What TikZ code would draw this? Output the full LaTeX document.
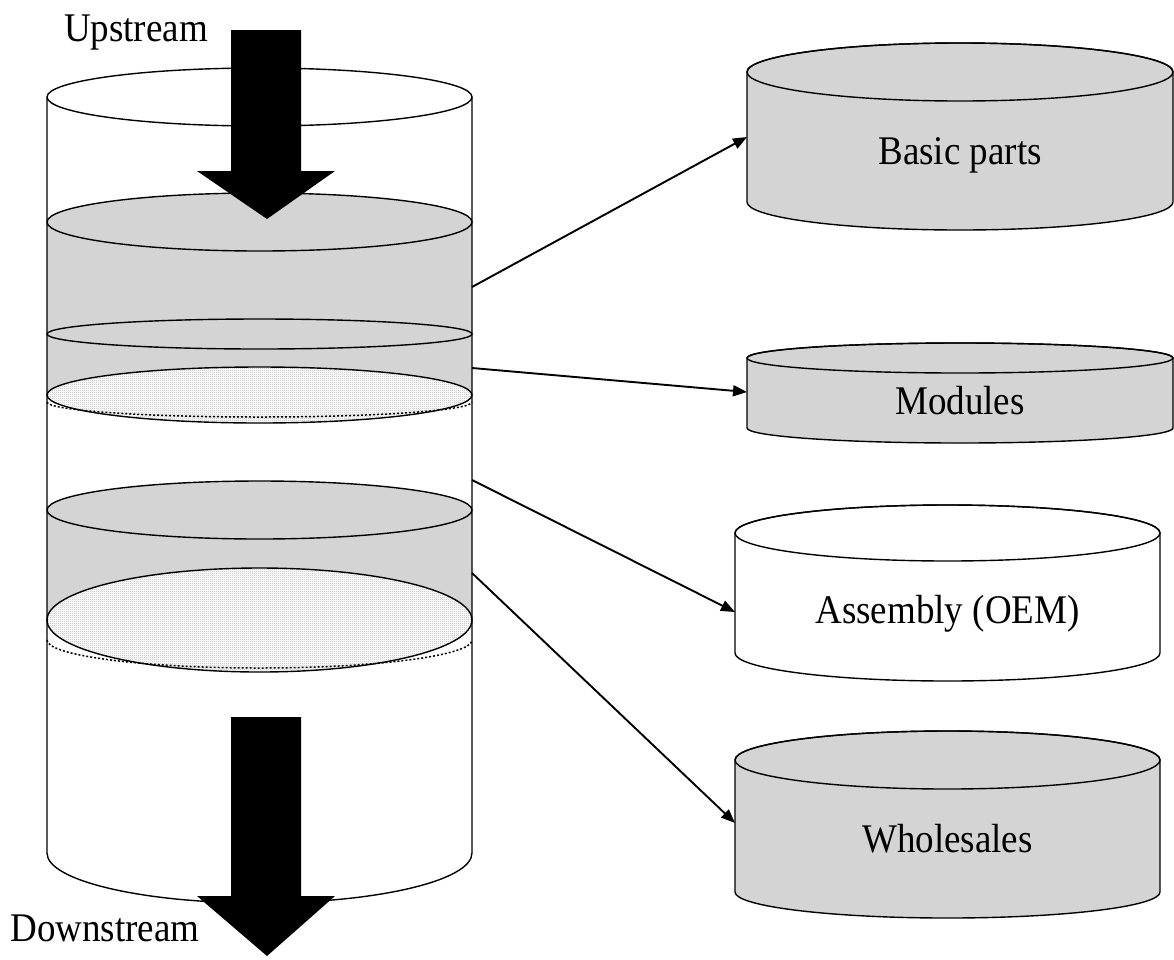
\documentclass[tikz,border=0pt]{standalone}
\usepackage{fontspec}
\setmainfont{Liberation Serif}
\usetikzlibrary{arrows.meta,patterns}
\definecolor{lg}{RGB}{212,212,212}
\definecolor{chk}{RGB}{188,188,188}
\pgfdeclarepatternformonly{finecheck}{\pgfpointorigin}{\pgfpoint{2pt}{2pt}}{\pgfpoint{2pt}{2pt}}{%
  \pgfpathrectangle{\pgfpointorigin}{\pgfpoint{1pt}{1pt}}%
  \pgfpathrectangle{\pgfpoint{1pt}{1pt}}{\pgfpoint{1pt}{1pt}}%
  \pgfusepath{fill}}
\newcommand\drawcan[7]{%
  \filldraw[canline, fill=#7] (#1-#4,-#2) -- (#1-#4,-#3)
    arc[start angle=180,end angle=360,x radius=#4,y radius=#6]
    -- (#1+#4,-#2)
    arc[start angle=0,end angle=180,x radius=#4,y radius=#5] -- cycle;
  \draw[canline] (#1,-#2) ellipse[x radius=#4, y radius=#5];
}
\newcommand\tallword[1]{\scalebox{1}[1.1]{#1}}
\begin{document}
\begin{tikzpicture}[x=1pt,y=1pt,
  canline/.style={line width=1.4pt, draw=black},
  conn/.style={line width=1.9pt, -{Triangle[length=14pt,width=11pt]}},
  lbl/.style={font=\fontsize{37}{40}\selectfont, inner sep=0pt, anchor=base},
  blockarrow/.style={fill=black, draw=none},
  dotline/.style={line width=1.5pt, dash pattern=on 2pt off 2pt},
  checked/.style={pattern=finecheck, pattern color=chk}]
\useasboundingbox (0,0) rectangle (1174,-959);

% ---- big layered cylinder ----
\fill[white] (47,-97) -- (47,-853) arc[start angle=180,end angle=360,x radius=212.5,y radius=50] -- (472,-97) -- cycle;

% band 1 (basic parts + modules)
\fill[lg] (47,-222) rectangle (472,-395);
\filldraw[canline, fill=lg] (259.5,-222) ellipse[x radius=212.5, y radius=29];
\filldraw[canline, fill=lg] (259.5,-334) ellipse[x radius=212.5, y radius=15];
\fill[white] (259.5,-395) ellipse[x radius=212.5, y radius=28];
\fill[checked] (259.5,-395) ellipse[x radius=212.5, y radius=28];
\draw[canline] (259.5,-395) ellipse[x radius=212.5, y radius=28];
\draw[dotline] (47,-402) arc[start angle=180,end angle=360,x radius=212.5,y radius=15];

% band 2 (assembly + wholesales)
\fill[lg] (47,-510) rectangle (472,-620);
\filldraw[canline, fill=lg] (259.5,-510) ellipse[x radius=212.5, y radius=29];
\fill[white] (259.5,-620) ellipse[x radius=212.5, y radius=52];
\fill[checked] (259.5,-620) ellipse[x radius=212.5, y radius=52];
\draw[canline] (259.5,-620) ellipse[x radius=212.5, y radius=52];
\draw[dotline] (47,-640) arc[start angle=180,end angle=360,x radius=212.5,y radius=28];

% top and outline
\filldraw[canline, fill=white] (259.5,-97) ellipse[x radius=212.5, y radius=29];
\draw[canline] (47,-97) -- (47,-853) arc[start angle=180,end angle=360,x radius=212.5,y radius=50] -- (472,-97);

% block arrows
\fill[blockarrow] (231,-30) -- (301,-30) -- (301,-171) -- (335,-171) -- (267,-219) -- (197,-171) -- (231,-171) -- cycle;
\fill[blockarrow] (231,-717) -- (301,-717) -- (301,-896) -- (335,-896) -- (267,-956) -- (197,-896) -- (231,-896) -- cycle;

\node[lbl] (up) at (136,-41) {\tallword{Upstream}};
\node[lbl] (down) at (105,-941) {\tallword{Downstream}};

% ---- right cylinders ----
\drawcan{960}{72}{202}{213}{29}{28}{lg}
\node[lbl] (basic) at (960,-164) {\tallword{Basic parts}};
\drawcan{960}{358}{428}{213}{15}{15}{lg}
\node[lbl] (mod) at (960,-414) {\tallword{Modules}};
\drawcan{947.5}{533}{653}{212.5}{28}{28}{white}
\node[lbl] (asm) at (947.5,-623) {\tallword{Assembly (OEM)}};
\drawcan{947.5}{760}{892}{212.5}{29}{26}{lg}
\node[lbl] (whl) at (947.5,-852) {\tallword{Wholesales}};

% ---- connectors ----
\coordinate (s1) at (472,-287);
\coordinate (s2) at (472,-368);
\coordinate (s3) at (472,-480);
\coordinate (s4) at (472,-573);
\coordinate (t1) at (747,-137);
\coordinate (t2) at (747,-392);
\coordinate (t3) at (735,-612);
\coordinate (t4) at (735,-823);
\draw[conn] (s1) -- (t1);
\draw[conn] (s2) -- (t2);
\draw[conn] (s3) -- (t3);
\draw[conn] (s4) -- (t4);
\end{tikzpicture}
\end{document}
